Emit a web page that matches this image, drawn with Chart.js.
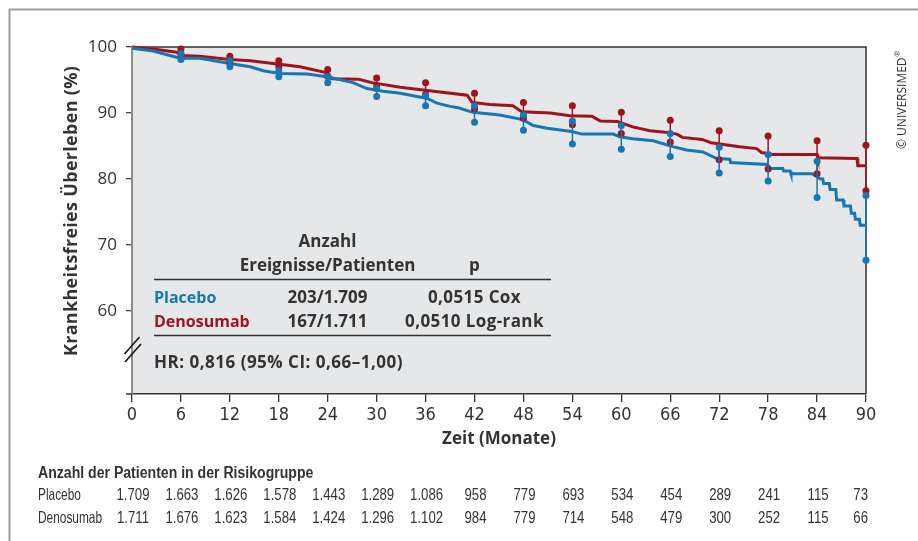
<!DOCTYPE html>
<html><head><meta charset="utf-8">
<script src="https://cdn.jsdelivr.net/npm/chart.js@4.4.1/dist/chart.umd.min.js"></script>
<style>
html,body{margin:0;padding:0;background:#fff;}
#wrap{position:relative;width:918px;height:541px;}
</style></head><body>
<div id="wrap"><canvas id="c" width="918" height="541"></canvas></div>
<script>
// ---------- data ----------
const xTickMonths = [0,6,12,18,24,30,36,42,48,54,60,66,72,78,84,90];
const yTickValues = [60,70,80,90,100];

const placeboT = [0,2.6,5.9,8.3,12.0,14.5,16.1,18.1,21.5,23.9,27.1,28.8,30.8,32.9,36.2,37.4,39.0,40.0,41.8,45.1,47.9,49.2,50.9,53.9,55.2,59.0,59.8,61.4,63.9,66.3,68.0,70.0,71.7,73.3,73.4,77.9,78.3,79.8,79.9,80.7,80.8,83.4,84.4,84.7,84.8,85.5,85.6,86.3,86.4,87.2,87.3,88.1,88.2,88.6,88.7,89.2,89.3,90];
const placeboS = [99.8,99.4,98.3,98.3,97.5,97.0,96.4,96.0,95.9,95.5,94.6,93.7,93.3,93.0,92.2,91.5,91.0,90.8,90.1,89.7,89.0,88.1,87.7,87.2,86.8,86.8,86.4,86.1,85.8,84.9,84.4,84.1,83.1,83.0,82.5,82.2,81.6,81.6,81.2,81.2,80.8,80.8,80.0,80.0,79.3,79.3,78.4,78.4,76.8,76.8,75.9,75.9,74.8,74.8,73.9,73.9,73.0,73.0];

const denosumabT = [0,2.6,5.5,6.0,8.3,12.0,14.5,18.1,20.6,23.9,24.5,27.8,29.4,32.9,36.2,41.1,41.7,43.9,46.7,47.8,51.3,53.7,56.4,57.4,59.5,61.4,63.5,65.4,66.8,67.5,69.9,71.0,74.5,76.6,77.2,78.6,84.0,84.1,88.9,89.0,90];
const denosumabS = [100,99.7,99.2,98.7,98.6,98.1,97.9,97.4,97.0,96.1,95.2,95.1,94.6,93.9,93.4,92.7,91.6,91.3,91.1,90.2,90.0,89.6,89.5,88.8,88.7,87.9,87.3,87.1,86.8,86.3,86.0,85.5,84.9,84.6,84.0,83.7,83.7,83.2,83.1,82.0,82.0];

const ciMonths = [6,12,18,24,30,36,42,48,54,60,66,72,78,84,90];
const placeboHi = [99.0,97.9,96.4,95.5,93.7,92.6,91.1,89.7,88.8,88.1,86.9,84.8,83.7,82.7,77.5];
const placeboLo = [98.1,97.0,95.5,94.6,92.5,91.1,88.6,87.4,85.3,84.5,83.4,80.9,79.7,77.2,67.7];
const denosumabHi = [99.7,98.6,97.9,96.6,95.3,94.6,93.0,91.6,91.1,90.1,88.9,87.3,86.5,85.8,85.1];
const denosumabLo = [98.9,97.6,97.0,95.6,94.0,92.8,90.6,89.2,88.2,86.9,85.6,82.9,81.5,80.8,78.2];

const riskMonths = xTickMonths;
const riskPlacebo = ['1.709','1.663','1.626','1.578','1.443','1.289','1.086','958','779','693','534','454','289','241','115','73'];
const riskDenosumab = ['1.711','1.676','1.623','1.584','1.424','1.296','1.102','984','779','714','548','479','300','252','115','66'];

const groupNames = ['Placebo','Denosumab'];
const summaryHeader = ['Anzahl','Ereignisse/Patienten','p'];
const summaryEvents = ['203/1.709','167/1.711'];
const summaryP = ['0,0515 Cox','0,0510 Log-rank'];
const hrText = 'HR: 0,816 (95% CI: 0,66–1,00)';
const yTitle = 'Krankheitsfreies Überleben (%)';
const xTitle = 'Zeit (Monate)';
const riskTitle = 'Anzahl der Patienten in der Risikogruppe';
const copyright = '© UNIVERSIMED';

// ---------- style ----------
const BLUE = '#1677b4';
const RED = '#a0121c';
const TXT = '#333333';
const SANS = '"Open Sans", "Noto Sans", sans-serif';
const NARROW = '"Liberation Sans Narrow", "DejaVu Sans Condensed", "Roboto Condensed", sans-serif';
const COND = '"Liberation Sans", Arial, sans-serif';

const toPts = (t, s) => t.map((v, i) => ({x: v, y: s[i]}));
const ciPts = (m, lo, hi) => {
  const out = [];
  m.forEach((t, i) => { out.push({x: t, y: lo[i]}, {x: t, y: hi[i]}, {x: t, y: null}); });
  return out;
};

function condText(ctx, txt, x, y, align, sx) {
  ctx.save();
  ctx.translate(x, y);
  ctx.scale(sx, 1);
  ctx.textAlign = align;
  ctx.fillText(txt, 0, 0);
  ctx.restore();
}

const decor = {
  id: 'decor',
  beforeDraw(chart) {
    const {ctx, chartArea: a} = chart;
    ctx.save();
    ctx.fillStyle = '#e6e7e9';
    ctx.fillRect(a.left, a.top, a.right - a.left, a.bottom - a.top);
    ctx.strokeStyle = '#9d9d9d';
    ctx.lineWidth = 2;
    ctx.beginPath();
    ctx.moveTo(9.5, 541); ctx.lineTo(9.5, 9.5); ctx.lineTo(918, 9.5);
    ctx.stroke();
    ctx.restore();
  },
  beforeDatasetsDraw(chart) {
    const {ctx, chartArea: a} = chart;
    ctx.save();
    ctx.strokeStyle = '#333';
    ctx.lineWidth = 1.5;
    ctx.beginPath();
    ctx.moveTo(a.left, a.top); ctx.lineTo(a.right, a.top); ctx.lineTo(a.right, a.bottom);
    ctx.stroke();
    ctx.beginPath();
    ctx.moveTo(a.left - 6, a.bottom); ctx.lineTo(a.left, a.bottom);
    ctx.stroke();
    ctx.restore();
  },
  afterDraw(chart) {
    const {ctx} = chart;
    const xs = chart.scales.x;
    ctx.save();
    // axis break
    ctx.strokeStyle = '#111';
    ctx.lineWidth = 1.6;
    ctx.beginPath();
    ctx.moveTo(124.5, 354); ctx.lineTo(139.5, 337);
    ctx.moveTo(125, 362); ctx.lineTo(141, 344);
    ctx.stroke();

    // y title
    ctx.save();
    ctx.translate(77, 211);
    ctx.rotate(-Math.PI / 2);
    ctx.font = 'bold 18px ' + SANS;
    ctx.letterSpacing = '0.3px';
    ctx.fillStyle = TXT;
    ctx.textAlign = 'center';
    ctx.textBaseline = 'alphabetic';
    ctx.fillText(yTitle, 0, 0);
    ctx.restore();

    // summary table
    ctx.fillStyle = TXT;
    ctx.textBaseline = 'alphabetic';
    ctx.textAlign = 'center';
    ctx.font = 'bold 17px ' + SANS;
    ctx.fillText(summaryHeader[0], 327.5, 246.5);
    ctx.fillText(summaryHeader[1], 327.5, 270.5);
    ctx.fillText(summaryHeader[2], 474.5, 270.5);
    const rowY = [302.5, 326.5];
    for (let i = 0; i < 2; i++) {
      ctx.textAlign = 'left';
      ctx.font = 'bold 16px ' + SANS;
      ctx.fillStyle = i === 0 ? BLUE : RED;
      ctx.fillText(groupNames[i], 154, rowY[i]);
      ctx.font = 'bold 17px ' + SANS;
      ctx.fillStyle = TXT;
      ctx.textAlign = 'center';
      ctx.fillText(summaryEvents[i], 327.5, rowY[i]);
      ctx.letterSpacing = '0.4px';
      ctx.fillText(summaryP[i], 474.5, rowY[i]);
      ctx.letterSpacing = '0px';
    }
    ctx.textAlign = 'left';
    ctx.letterSpacing = '0.5px';
    ctx.fillText(hrText, 154, 367.5);
    ctx.letterSpacing = '0px';
    ctx.strokeStyle = '#333';
    ctx.lineWidth = 1.3;
    ctx.beginPath();
    ctx.moveTo(154, 279.5); ctx.lineTo(551, 279.5);
    ctx.moveTo(154, 335.5); ctx.lineTo(551, 335.5);
    ctx.stroke();

    // risk table
    ctx.fillStyle = TXT;
    ctx.font = 'bold 16px ' + COND;
    condText(ctx, riskTitle, 38, 478, 'left', 0.88);
    ctx.font = '16.5px ' + COND;
    const rows = [riskPlacebo, riskDenosumab];
    const ry = [500, 523];
    rows.forEach((r, j) => {
      condText(ctx, groupNames[j], 38, ry[j], 'left', 0.72);
      r.forEach((v, i) => {
        const px = xs.getPixelForValue(riskMonths[i]);
        if (i === r.length - 1) condText(ctx, v, px + 2, ry[j], 'right', 0.8);
        else condText(ctx, v, px + 1, ry[j], 'center', 0.8);
      });
    });

    // copyright
    ctx.save();
    ctx.translate(905.5, 149);
    ctx.rotate(-Math.PI / 2);
    ctx.font = '12px ' + SANS;
    ctx.fillStyle = TXT;
    ctx.textAlign = 'left';
    ctx.fillText(copyright, 0, 0);
    const w = ctx.measureText(copyright).width;
    ctx.font = '8px ' + SANS;
    ctx.fillText('®', w + 0.5, -6);
    ctx.restore();

    ctx.restore();
  }
};

new Chart(document.getElementById('c'), {
  type: 'line',
  data: {
    datasets: [
      {data: ciPts(ciMonths, placeboLo, placeboHi), borderColor: BLUE, backgroundColor: BLUE, borderWidth: 1.5,
        pointRadius: 3.5, pointBorderWidth: 0, pointBackgroundColor: BLUE, spanGaps: false, clip: false, order: 0},
      {data: ciPts(ciMonths, denosumabLo, denosumabHi), borderColor: RED, backgroundColor: RED, borderWidth: 1.5,
        pointRadius: 3.5, pointBorderWidth: 0, pointBackgroundColor: RED, spanGaps: false, clip: false, order: 1},
      {data: toPts(placeboT, placeboS), borderColor: BLUE, borderWidth: 3, pointRadius: 0, tension: 0, clip: false, order: 2},
      {data: toPts(denosumabT, denosumabS), borderColor: RED, borderWidth: 3, pointRadius: 0, tension: 0, clip: false, order: 3}
    ]
  },
  options: {
    responsive: false,
    animation: false,
    devicePixelRatio: 1,
    layout: {padding: {left: 0, top: 47, right: 52, bottom: 87}},
    plugins: {legend: {display: false}, tooltip: {enabled: false}},
    scales: {
      x: {
        type: 'linear', min: 0, max: 90,
        afterBuildTicks: s => { s.ticks = xTickMonths.map(v => ({value: v})); },
        afterFit: s => { s.height = 60; },
        ticks: {font: {family: NARROW, size: 18}, color: TXT, padding: 3, maxRotation: 0, autoSkip: false},
        grid: {drawOnChartArea: false, drawTicks: true, tickLength: 8, color: '#333', lineWidth: 1.3},
        border: {color: '#333', width: 1.5},
        title: {display: true, text: xTitle, font: {family: SANS, size: 17, weight: 'bold'}, color: TXT, padding: {top: 0, bottom: 5}}
      },
      y: {
        type: 'linear', min: 47.42, max: 100,
        afterBuildTicks: s => { s.ticks = yTickValues.map(v => ({value: v})); },
        afterFit: s => { s.width = 132; },
        ticks: {font: {family: SANS, size: 17}, color: TXT, padding: 9},
        grid: {drawOnChartArea: false, drawTicks: true, tickLength: 6, color: '#444', lineWidth: 1.3},
        border: {color: '#8c8c8c', width: 2}
      }
    }
  },
  plugins: [decor]
});
</script>
</body></html>
